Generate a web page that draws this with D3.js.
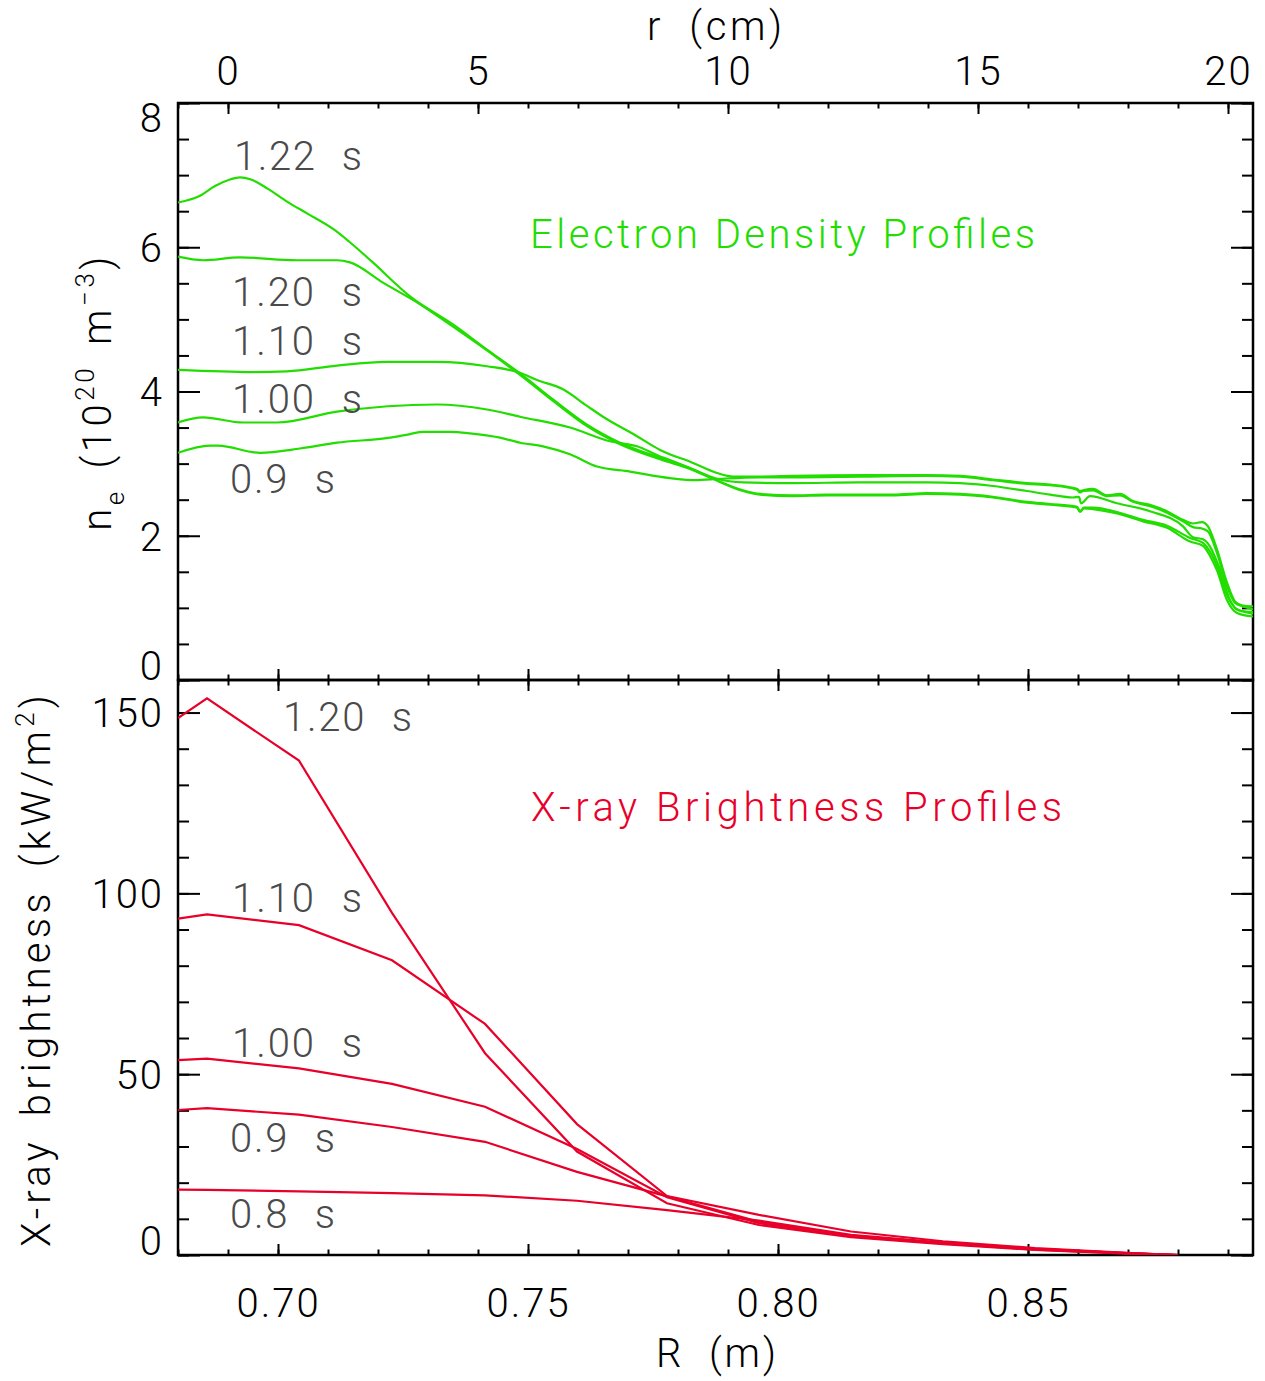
<!DOCTYPE html>
<html>
<head>
<meta charset="utf-8">
<script src="https://cdn.jsdelivr.net/npm/d3@7"></script>
<style>
  body { margin: 0; background: #fff; }
  text { font-family: Roboto, "DejaVu Sans", sans-serif; font-weight: 300; }
</style>
</head>
<body>
<svg id="chart" width="1265" height="1381"></svg>
<script>
// ---------------- data ----------------
// Electron density profiles: [r (cm), n_e (1e20 m^-3)]
const ne122 = [[-1.00,6.62],[-0.57,6.71],[-0.26,6.85],[0.04,6.94],[0.24,6.97],[0.46,6.94],[0.80,6.81],[1.19,6.63],[1.58,6.47],[2.11,6.25],[2.42,6.08],[2.88,5.80],[3.64,5.32],[4.50,4.93],[5.18,4.58],[5.84,4.25],[6.50,3.89],[7.18,3.54],[7.84,3.29],[8.64,3.08],[9.30,2.92],[9.70,2.79],[10.30,2.62],[10.64,2.57],[11.30,2.55],[11.98,2.56],[13.30,2.56],[13.98,2.58],[14.64,2.57],[15.30,2.53],[15.98,2.46],[16.44,2.43],[16.98,2.39],[17.04,2.33],[17.12,2.38],[17.30,2.37],[17.78,2.31],[18.30,2.20],[18.78,2.11],[19.24,1.92],[19.50,1.86],[19.64,1.72],[19.78,1.52],[19.98,1.11],[20.18,0.93],[20.50,0.88]];
const ne120 = [[-1.00,5.87],[-0.50,5.82],[0.24,5.86],[1.38,5.82],[2.18,5.82],[2.44,5.79],[3.10,5.51],[3.84,5.21],[4.50,4.90],[5.18,4.57],[5.84,4.23],[6.50,3.87],[7.18,3.52],[7.84,3.27],[8.64,3.06],[9.30,2.91],[9.70,2.79],[10.30,2.63],[10.64,2.58],[11.30,2.56],[11.98,2.57],[13.30,2.57],[13.98,2.59],[14.64,2.58],[15.30,2.54],[15.98,2.47],[16.44,2.44],[16.98,2.40],[17.04,2.34],[17.12,2.39],[17.30,2.39],[17.78,2.33],[18.30,2.22],[18.78,2.14],[19.24,1.97],[19.50,1.90],[19.64,1.78],[19.78,1.58],[19.98,1.18],[20.18,0.98],[20.50,0.92]];
const ne110 = [[-1.00,4.30],[0.50,4.27],[1.18,4.28],[2.18,4.36],[3.18,4.41],[4.18,4.41],[5.18,4.35],[5.84,4.26],[6.18,4.16],[6.70,4.03],[7.18,3.80],[7.50,3.65],[8.18,3.38],[8.64,3.19],[9.30,3.01],[9.78,2.87],[10.10,2.82],[10.64,2.82],[11.30,2.83],[12.64,2.84],[13.98,2.84],[14.64,2.83],[15.30,2.78],[15.98,2.73],[16.44,2.71],[16.98,2.65],[17.04,2.62],[17.10,2.63],[17.30,2.65],[17.58,2.56],[17.84,2.58],[18.10,2.48],[18.44,2.43],[18.78,2.34],[19.10,2.22],[19.30,2.17],[19.48,2.19],[19.60,2.13],[19.78,1.81],[19.98,1.35],[20.14,1.09],[20.30,1.03],[20.50,1.02]];
const ne100 = [[-1.00,3.57],[-0.50,3.64],[0.30,3.57],[0.98,3.57],[2.18,3.72],[4.18,3.82],[5.18,3.75],[5.84,3.65],[6.84,3.50],[7.64,3.31],[8.18,3.24],[8.64,3.10],[8.84,3.05],[9.30,2.92],[9.78,2.79],[10.30,2.74],[11.30,2.73],[12.64,2.74],[13.98,2.74],[14.64,2.73],[15.30,2.69],[15.98,2.62],[16.44,2.57],[16.90,2.53],[17.02,2.54],[17.06,2.45],[17.24,2.55],[17.78,2.45],[18.44,2.34],[19.10,2.13],[19.30,1.98],[19.50,1.95],[19.64,1.85],[19.84,1.53],[20.04,1.11],[20.20,0.97],[20.50,0.94]];
const ne090 = [[-1.00,3.15],[-0.36,3.25],[-0.20,3.25],[0.64,3.15],[1.44,3.21],[2.18,3.29],[3.24,3.36],[3.64,3.41],[3.90,3.44],[4.44,3.44],[4.84,3.42],[5.44,3.36],[5.84,3.29],[6.30,3.24],[6.84,3.13],[7.38,2.96],[8.04,2.89],[8.84,2.80],[9.34,2.77],[9.84,2.79],[10.64,2.81],[11.30,2.81],[12.64,2.82],[13.98,2.83],[14.64,2.82],[15.30,2.77],[15.98,2.72],[16.44,2.70],[16.98,2.64],[17.04,2.60],[17.10,2.62],[17.30,2.63],[17.58,2.55],[17.84,2.56],[18.10,2.47],[18.44,2.41],[18.78,2.32],[19.10,2.20],[19.30,2.12],[19.48,2.10],[19.60,2.06],[19.78,1.76],[19.98,1.30],[20.14,1.07],[20.30,1.02],[20.50,0.98]];
const neTimes = ["1.22 s", "1.20 s", "1.10 s", "1.00 s", "0.9 s"];

// X-ray brightness profiles: major radius R (m) and brightness (kW/m^2)
const xrayR   = [0.6800, 0.6858, 0.7042, 0.7228, 0.7414, 0.7598, 0.7778, 0.7962, 0.8146, 0.8330, 0.8514, 0.8698, 0.8800];
const xray120 = [148.5, 153.9, 136.7, 94.6, 55.8, 28.6, 14.3, 8.3, 4.9, 3.0, 1.4, 0.4, 0];
const xray110 = [93.0, 94.2, 91.2, 81.5, 63.9, 36.2, 16.3, 11.1, 6.5, 3.8, 1.9, 0.6, 0];
const xray100 = [53.9, 54.3, 51.6, 47.3, 41.0, 29.3, 16.0, 8.8, 5.2, 3.2, 1.5, 0.45, 0];
const xray090 = [40.1, 40.6, 38.8, 35.4, 31.3, 23.0, 16.2, 9.2, 5.4, 3.3, 1.6, 0.5, 0];
const xray080 = [18.1, 18.0, 17.6, 17.1, 16.5, 15.0, 12.4, 9.5, 5.6, 3.4, 1.7, 0.5, 0];
const xrayTimes = ["1.20 s", "1.10 s", "1.00 s", "0.9 s", "0.8 s"];

// axis ticks
const rMajorTicks  = [0, 5, 10, 15, 20];
const RMajorTicks  = [0.70, 0.75, 0.80, 0.85];
const neMajorTicks = [0, 2, 4, 6, 8];
const xrMajorTicks = [0, 50, 100, 150];

// ---------------- layout ----------------
const L = 178, Rt = 1253, T1 = 103, MID = 680, B2 = 1255;
const GREEN = "#22dd00", RED = "#e8002a", LABEL = "#4a4a4a";
const FS = 40;

const svg = d3.select("#chart");

const rScale  = d3.scaleLinear().domain([-1, 20.5]).range([L, Rt]);
const RScale  = d3.scaleLinear().domain([0.68, 0.895]).range([L, Rt]);
const neScale = d3.scaleLinear().domain([0, 8]).range([MID, T1]);
const xrScale = d3.scaleLinear().domain([0, 159]).range([B2, MID]);

const rMinor  = d3.range(-1, 21, 1);
const RMinor  = d3.range(68, 90).map(v => v / 100);
const neMinor = d3.range(0, 8.01, 0.5);
const xrMinor = d3.range(0, 151, 10);

// clip regions for the two panels
const defs = svg.append("defs");
defs.append("clipPath").attr("id", "clipTop")
  .append("rect").attr("x", L).attr("y", T1).attr("width", Rt - L).attr("height", MID - T1);
defs.append("clipPath").attr("id", "clipBot")
  .append("rect").attr("x", L).attr("y", MID).attr("width", Rt - L).attr("height", B2 - MID);

// draws one axis, ticks pointing into the frame
function drawAxis(axis, tx, ty, labels) {
  const g = svg.append("g").attr("transform", `translate(${tx},${ty})`).call(axis);
  g.select(".domain").remove();
  g.selectAll(".tick line").attr("stroke", "#000").attr("stroke-width", 2);
  g.attr("font-size", FS).attr("fill", "#000");
  if (!labels) g.selectAll(".tick text").remove();
  else g.selectAll(".tick text").attr("fill", "#000").style("letter-spacing", "2px");
  return g;
}

// ---- top panel axes ----
drawAxis(d3.axisTop(rScale).tickValues(rMinor).tickSize(-5.5), 0, T1, false);
drawAxis(d3.axisTop(rScale).tickValues(rMajorTicks).tickSize(-11).tickPadding(18).tickFormat(d3.format("d")), 0, T1, true);
drawAxis(d3.axisBottom(RScale).tickValues(RMinor).tickSize(-5.5), 0, MID, false);
drawAxis(d3.axisBottom(RScale).tickValues(RMajorTicks).tickSize(-11), 0, MID, false);
drawAxis(d3.axisLeft(neScale).tickValues(neMinor).tickSize(-11), L, 0, false);
const neLeft = drawAxis(d3.axisLeft(neScale).tickValues(neMajorTicks).tickSize(-22).tickPadding(14).tickFormat(d3.format("d")), L, 0, true);
drawAxis(d3.axisRight(neScale).tickValues(neMinor).tickSize(-11), Rt, 0, false);
drawAxis(d3.axisRight(neScale).tickValues(neMajorTicks).tickSize(-22), Rt, 0, false);

// ---- bottom panel axes ----
drawAxis(d3.axisTop(RScale).tickValues(RMinor).tickSize(-5.5), 0, MID, false);
drawAxis(d3.axisTop(RScale).tickValues(RMajorTicks).tickSize(-11), 0, MID, false);
drawAxis(d3.axisBottom(RScale).tickValues(RMinor).tickSize(-5.5), 0, B2, false);
const RBottom = drawAxis(d3.axisBottom(RScale).tickValues(RMajorTicks).tickSize(-11).tickFormat(d3.format(".2f")), 0, B2, true);
RBottom.selectAll(".tick text").attr("y", 62).attr("dy", null);
drawAxis(d3.axisLeft(xrScale).tickValues(xrMinor).tickSize(-11), L, 0, false);
const xrLeft = drawAxis(d3.axisLeft(xrScale).tickValues(xrMajorTicks).tickSize(-22).tickPadding(14).tickFormat(d3.format("d")), L, 0, true);
drawAxis(d3.axisRight(xrScale).tickValues(xrMinor).tickSize(-11), Rt, 0, false);
drawAxis(d3.axisRight(xrScale).tickValues(xrMajorTicks).tickSize(-22), Rt, 0, false);

// keep left labels at the panel edges inside the frame
function pinEdgeLabels(g, scale, y0, y1) {
  const half = 14.5;
  g.selectAll(".tick text").each(function(d) {
    const y = scale(d);
    const c = Math.max(Math.min(y, y1 - half), y0 + half);
    d3.select(this).attr("dy", null).attr("y", c - y + 0.36 * FS);
  });
}
pinEdgeLabels(neLeft, neScale, T1, MID);
pinEdgeLabels(xrLeft, xrScale, MID, B2);

// ---- frames ----
[[T1, MID], [MID, B2]].forEach(([a, b]) => {
  svg.append("rect").attr("x", L).attr("y", a).attr("width", Rt - L).attr("height", b - a)
    .attr("fill", "none").attr("stroke", "#000").attr("stroke-width", 2.5);
});

// ---- density curves ----
const neSeries = [ne122, ne120, ne110, ne100, ne090];
const neLine = d3.line().x(d => rScale(d[0])).y(d => neScale(d[1])).curve(d3.curveMonotoneX);
svg.append("g").attr("clip-path", "url(#clipTop)")
  .selectAll("path").data(neSeries).join("path")
  .attr("d", neLine).attr("fill", "none").attr("stroke", GREEN).attr("stroke-width", 2.2);

// ---- x-ray curves ----
const xraySeries = [xray120, xray110, xray100, xray090, xray080].map(vals => vals.map((v, i) => [xrayR[i], v]));
const xrLine = d3.line().x(d => RScale(d[0])).y(d => xrScale(d[1]));
svg.append("g").attr("clip-path", "url(#clipBot)")
  .selectAll("path").data(xraySeries).join("path")
  .attr("d", xrLine).attr("fill", "none").attr("stroke", RED).attr("stroke-width", 2.2);

// ---- time labels ----
const neLabelPos = [[234, 170, 128], [232, 306, 130], [232, 355, 130], [232, 413, 130], [230, 493, 105]];
const xrLabelPos = [[283, 731, 129], [232, 912, 130], [232, 1057, 130], [230, 1152, 105], [230, 1228, 105]];
function timeLabels(names, pos) {
  svg.append("g").selectAll("text").data(names).join("text")
    .attr("x", (d, i) => pos[i][0]).attr("y", (d, i) => pos[i][1])
    .attr("textLength", (d, i) => pos[i][2]).attr("lengthAdjust", "spacing")
    .style("word-spacing", "14px")
    .attr("font-size", FS).attr("fill", LABEL).text(d => d);
}
timeLabels(neTimes, neLabelPos);
timeLabels(xrayTimes, xrLabelPos);

// ---- panel titles ----
svg.append("text").attr("x", 530).attr("y", 248).attr("textLength", 505).attr("lengthAdjust", "spacing")
  .attr("font-size", FS).attr("fill", GREEN).text("Electron Density Profiles");
svg.append("text").attr("x", 531).attr("y", 821).attr("textLength", 531).attr("lengthAdjust", "spacing")
  .attr("font-size", FS).attr("fill", RED).text("X-ray Brightness Profiles");

// ---- axis titles ----
svg.append("text").attr("x", 647).attr("y", 40).attr("textLength", 135).attr("lengthAdjust", "spacing")
  .style("word-spacing", "12px").attr("font-size", FS).attr("fill", "#000").text("r (cm)");
svg.append("text").attr("x", 656).attr("y", 1367).attr("textLength", 120).attr("lengthAdjust", "spacing")
  .style("word-spacing", "12px").attr("font-size", FS).attr("fill", "#000").text("R (m)");

const neTitle = svg.append("text")
  .attr("transform", "translate(111,392) rotate(-90)")
  .attr("text-anchor", "middle").attr("font-size", FS).attr("fill", "#000")
  .style("letter-spacing", "3.5px");
neTitle.append("tspan").text("n");
neTitle.append("tspan").attr("font-size", 26).attr("dy", 13).text("e");
neTitle.append("tspan").attr("dy", -13).attr("dx", 20).text("(10");
neTitle.append("tspan").attr("font-size", 26).attr("dy", -17).text("20");
neTitle.append("tspan").attr("dy", 17).attr("dx", 20).text("m");
neTitle.append("tspan").attr("font-size", 26).attr("dy", -17).text("\u22123");
neTitle.append("tspan").attr("dy", 17).text(")");

const xrTitle = svg.append("text")
  .attr("transform", "translate(50,969) rotate(-90)")
  .attr("text-anchor", "middle").attr("font-size", FS).attr("fill", "#000")
  .style("letter-spacing", "4.2px").style("word-spacing", "8px");
xrTitle.append("tspan").text("X-ray brightness (kW/m");
xrTitle.append("tspan").attr("font-size", 26).attr("dy", -16).text("2");
xrTitle.append("tspan").attr("dy", 16).text(")");
</script>
</body>
</html>
